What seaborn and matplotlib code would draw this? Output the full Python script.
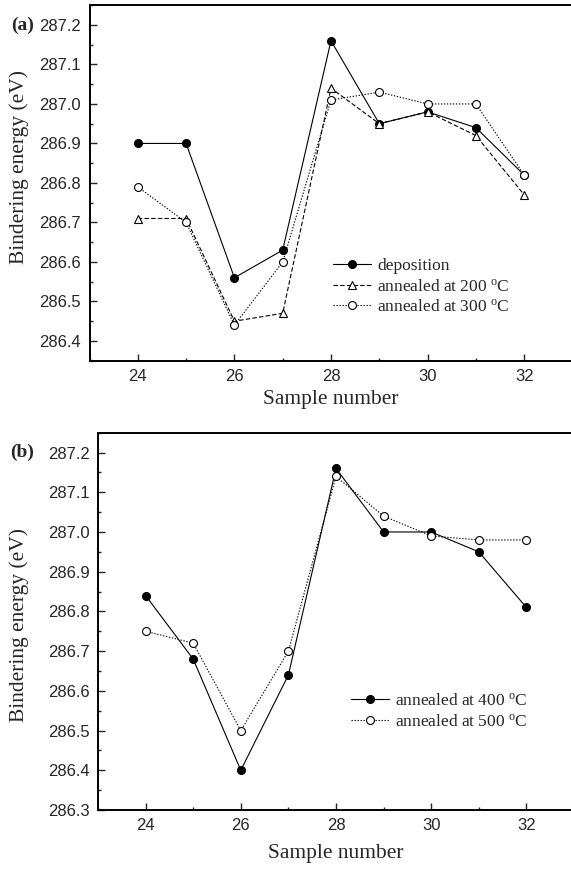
import numpy as np
import pandas as pd
import matplotlib
matplotlib.use("Agg")
import matplotlib.pyplot as plt
from matplotlib.ticker import MultipleLocator, FormatStrFormatter
import seaborn as sns

# ---- data ----
samples = [24, 25, 26, 27, 28, 29, 30, 31, 32]
deposition = [286.90, 286.90, 286.56, 286.63, 287.16, 286.95, 286.98, 286.94, 286.82]
annealed_200 = [286.71, 286.71, 286.45, 286.47, 287.04, 286.95, 286.98, 286.92, 286.77]
annealed_300 = [286.79, 286.70, 286.44, 286.60, 287.01, 287.03, 287.00, 287.00, 286.82]
annealed_400 = [286.84, 286.68, 286.40, 286.64, 287.16, 287.00, 287.00, 286.95, 286.81]
annealed_500 = [286.75, 286.72, 286.50, 286.70, 287.14, 287.04, 286.99, 286.98, 286.98]

labels_a = ['deposition', r'annealed at 200 $^{\mathrm{o}}$C', r'annealed at 300 $^{\mathrm{o}}$C']
labels_b = [r'annealed at 400 $^{\mathrm{o}}$C', r'annealed at 500 $^{\mathrm{o}}$C']
xlabel = 'Sample number'
ylabel = 'Bindering energy (eV)'

sns.set_style('white')
plt.rcParams['font.family'] = ['Liberation Serif', 'DejaVu Serif']
plt.rcParams['mathtext.fontset'] = 'custom'
plt.rcParams['mathtext.rm'] = 'Liberation Serif'
plt.rcParams['mathtext.it'] = 'Liberation Serif:italic'

W, H = 571, 869
fig = plt.figure(figsize=(W / 100, H / 100), dpi=100)
ax_a = fig.add_axes([89.5 / W, (H - 360.7) / H, 483 / W, 355.5 / H])
ax_b = fig.add_axes([98 / W, (H - 810) / H, 476 / W, 377.3 / H])

lw = 0.8
ms = 5.7

def draw(ax, y, label, marker, filled, ls):
    df = pd.DataFrame({'x': samples, 'y': y})
    sns.lineplot(data=df, x='x', y='y', ax=ax, color='black', linewidth=lw,
                 linestyle=ls, marker=marker, markersize=ms,
                 markerfacecolor='black' if filled else 'white',
                 markeredgecolor='black', markeredgewidth=0.8,
                 label=label, sort=False)

dash = (0, (4, 2))
dot = (0, (1.2, 1.5))
draw(ax_a, deposition, labels_a[0], 'o', True, '-')
draw(ax_a, annealed_200, labels_a[1], '^', False, dash)
draw(ax_a, annealed_300, labels_a[2], 'o', False, dot)
draw(ax_b, annealed_400, labels_b[0], 'o', True, '-')
draw(ax_b, annealed_500, labels_b[1], 'o', False, dot)

ax_a.set_ylim(286.35, 287.25)
ax_b.set_ylim(286.30, 287.25)

for ax in (ax_a, ax_b):
    ax.set_xlim(23, 33)
    ax.xaxis.set_major_locator(MultipleLocator(2))
    ax.xaxis.set_minor_locator(MultipleLocator(1))
    ax.yaxis.set_major_locator(MultipleLocator(0.1))
    ax.yaxis.set_minor_locator(MultipleLocator(0.05))
    ax.yaxis.set_major_formatter(FormatStrFormatter('%.1f'))
    ax.tick_params(which='major', direction='in', length=5, width=1.0,
                   labelsize=12, pad=6)
    ax.tick_params(which='minor', direction='in', length=2.5, width=1.0)
    ax.tick_params(axis='x', which='both', bottom=True, top=False)
    ax.tick_params(axis='y', which='both', left=True, right=False)
    for lab in ax.get_xticklabels() + ax.get_yticklabels():
        lab.set_family(['Liberation Sans', 'DejaVu Sans'])
    for s in ['left', 'top', 'bottom']:
        ax.spines[s].set_linewidth(1.4)
        ax.spines[s].set_color('black')
    ax.spines['right'].set_visible(False)
    ax.set_xlabel(xlabel, fontsize=15.5)
    ax.set_ylabel(ylabel, fontsize=15.5)

ax_a.xaxis.labelpad = 4
ax_b.xaxis.labelpad = 8
ax_a.yaxis.set_label_coords((29 - 89.5) / 483, (360.7 - 167.5) / 355.5)
ax_b.yaxis.set_label_coords((29 - 98) / 476, (810 - 625) / 377.3)

leg_kw = dict(frameon=False, fontsize=12.5, handlelength=2.2, handletextpad=0.35,
              labelspacing=0.25, borderpad=0, borderaxespad=0, loc='upper left')
ax_a.legend(bbox_to_anchor=((333 - 89.5) / 483, (360.7 - 258) / 355.5), **leg_kw)
ax_b.legend(bbox_to_anchor=((351 - 98) / 476, (810 - 693) / 377.3), **leg_kw)

fig.text(11 / W, 1 - 25 / H, '(a)', fontsize=14, fontweight='bold', ha='left', va='center')
fig.text(10 / W, 1 - 452 / H, '(b)', fontsize=14, fontweight='bold', ha='left', va='center')

fig.savefig('out.png', dpi=100)
